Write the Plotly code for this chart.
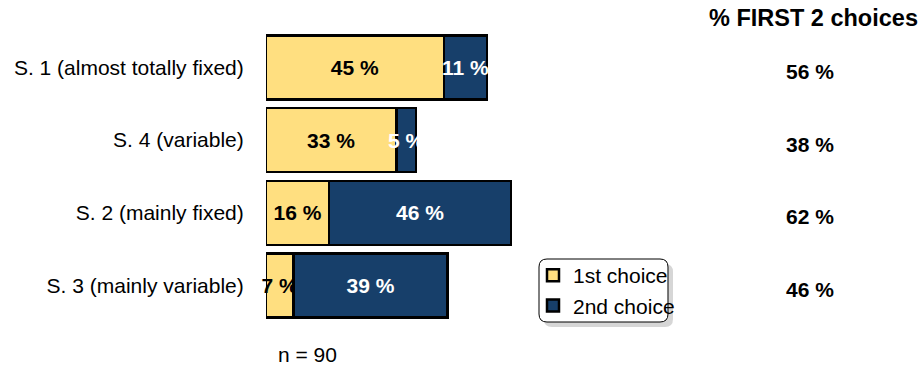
import plotly.graph_objects as go

# Scenario preferences: share of respondents naming each scenario 1st / 2nd choice
scenarios = [
    "S. 1 (almost totally fixed)",
    "S. 4 (variable)",
    "S. 2 (mainly fixed)",
    "S. 3 (mainly variable)",
]
first_choice = [45, 33, 16, 7]
second_choice = [11, 5, 46, 39]
sample_label = "n = 90"
total_header = "% FIRST 2 choices"

W, H = 922, 366
ML, MR, MT, MB = 266, 0, 31, 44
PW, PH = W - ML - MR, H - MT - MB

FONT = "Liberation Sans, Arial, sans-serif"
YELLOW = "#FFDF80"
NAVY = "#173F6A"


def px_x(px):
    return (px - ML) / PW


def px_y(py):
    return (H - MB - py) / PH


fig = go.Figure()
fig.add_trace(go.Bar(
    y=scenarios, x=first_choice, orientation="h", name="1st choice",
    marker=dict(color=YELLOW, line=dict(color="black", width=2.5)),
    text=[f"{v} %" for v in first_choice], textposition="inside",
    insidetextanchor="middle", textangle=0, cliponaxis=False,
    textfont=dict(family=FONT, size=21, color="black", weight="bold"),
    width=0.88,
))
fig.add_trace(go.Bar(
    y=scenarios, x=second_choice, orientation="h", name="2nd choice",
    marker=dict(color=NAVY, line=dict(color="black", width=2.5)),
    text=[f"{v} %" for v in second_choice], textposition="inside",
    insidetextanchor="middle", textangle=0, cliponaxis=False,
    textfont=dict(family=FONT, size=21, color="white", weight="bold"),
    width=0.88,
))

# Totals of the first two choices, in a column on the right
for s, a, b in zip(scenarios, first_choice, second_choice):
    fig.add_annotation(
        x=px_x(810), xref="paper", xanchor="center",
        y=s, yref="y", yanchor="middle", yshift=-4,
        text=f"<b>{a + b} %</b>", showarrow=False,
        font=dict(family=FONT, size=21, color="black"),
    )
fig.add_annotation(
    x=px_x(813), xref="paper", xanchor="center",
    y=px_y(18), yref="paper", yanchor="middle",
    text=f"<b>{total_header}</b>", showarrow=False,
    font=dict(family=FONT, size=23.5, color="black"),
)
fig.add_annotation(
    x=px_x(307), xref="paper", xanchor="center",
    y=px_y(354), yref="paper", yanchor="middle",
    text=sample_label, showarrow=False,
    font=dict(family=FONT, size=21, color="black"),
)


# Rounded legend frame with a soft drop shadow
def rounded_rect(x0, y0, x1, y1, r):
    def P(px, py):
        return f"{px_x(px):.5f},{px_y(py):.5f}"
    return (
        f"M {P(x0 + r, y0)} L {P(x1 - r, y0)} Q {P(x1, y0)} {P(x1, y0 + r)} "
        f"L {P(x1, y1 - r)} Q {P(x1, y1)} {P(x1 - r, y1)} "
        f"L {P(x0 + r, y1)} Q {P(x0, y1)} {P(x0, y1 - r)} "
        f"L {P(x0, y0 + r)} Q {P(x0, y0)} {P(x0 + r, y0)} Z"
    )


fig.add_shape(type="path", xref="paper", yref="paper",
              path=rounded_rect(544, 264, 673, 327, 8),
              fillcolor="#d6d6d6", line=dict(width=0), layer="above")
fig.add_shape(type="path", xref="paper", yref="paper",
              path=rounded_rect(539, 259, 668, 322, 8),
              fillcolor="white", line=dict(color="black", width=1), layer="above")

fig.update_layout(
    width=W, height=H,
    margin=dict(l=ML, r=MR, t=MT, b=MB),
    barmode="stack", bargap=0.12,
    plot_bgcolor="white", paper_bgcolor="white",
    uniformtext=dict(minsize=21, mode="show"),
    showlegend=True,
    legend=dict(
        x=px_x(533), xanchor="left", y=px_y(255), yanchor="top",
        bgcolor="rgba(0,0,0,0)", borderwidth=0,
        font=dict(family=FONT, size=21, color="black"),
        traceorder="normal", tracegroupgap=0,
    ),
    xaxis=dict(range=[0, PW / 3.95], visible=False, fixedrange=True),
    yaxis=dict(
        categoryorder="array", categoryarray=scenarios, autorange="reversed",
        showgrid=False, zeroline=False, showline=False,
        ticks="outside", ticklen=17, tickcolor="rgba(0,0,0,0)",
        tickfont=dict(family=FONT, size=21, color="black"),
    ),
)

fig.write_html("out.html")
